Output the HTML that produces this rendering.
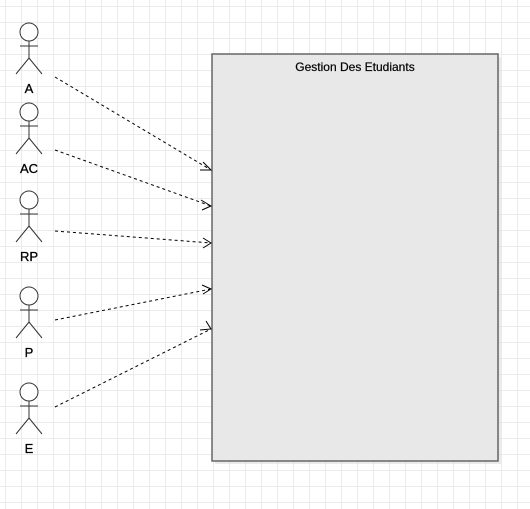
<!DOCTYPE html>
<html><head><style>
html,body{margin:0;padding:0;}
body{width:530px;height:509px;overflow:hidden;background-color:#fff;
background-image:linear-gradient(#ebebeb 1px,transparent 1px),linear-gradient(90deg,#ebebeb 1px,transparent 1px);
background-size:16px 16px;background-position:5px 6px;}
svg{position:absolute;left:0;top:0;}
text{font-family:"Liberation Sans",sans-serif;}
</style></head><body>
<svg width="530" height="509" viewBox="0 0 530 509">
<defs>
<g id="actor" fill="none" stroke="#333" stroke-width="1">
<circle cx="29" cy="0" r="9" fill="#fff"/>
<line x1="29" y1="9" x2="29" y2="26"/>
<line x1="20" y1="14" x2="38" y2="14"/>
<line x1="29" y1="26" x2="16" y2="42"/>
<line x1="29" y1="26" x2="42" y2="42"/>
</g>
</defs>
<rect x="215" y="57" width="286" height="407" fill="#d8d8d8" opacity="0.5"/>
<rect x="212" y="54" width="286" height="407" fill="#e8e8e8" stroke="#666" stroke-width="1.5"/>
<text x="355" y="71" font-size="12" text-anchor="middle" fill="#000" stroke="#000" stroke-width="0.2">Gestion Des Etudiants</text>
<use href="#actor" y="32"/>
<use href="#actor" y="112"/>
<use href="#actor" y="200"/>
<use href="#actor" y="296"/>
<use href="#actor" y="392"/>
<g font-size="13" text-anchor="middle" fill="#000" stroke="#000" stroke-width="0.3">
<text x="29" y="93">A</text>
<text x="29" y="173">AC</text>
<text x="29" y="261">RP</text>
<text x="29" y="357">P</text>
<text x="29" y="453">E</text>
</g>
<g stroke="#000" stroke-width="1" fill="none" stroke-dasharray="3,3">
<line x1="55" y1="77" x2="211" y2="170"/>
<line x1="55" y1="150" x2="211" y2="206"/>
<line x1="55" y1="231" x2="211" y2="243"/>
<line x1="55" y1="320" x2="211" y2="289"/>
<line x1="55" y1="407" x2="211" y2="329"/>
</g>
<g stroke="#000" stroke-width="1" fill="none">
<polyline points="203,162 211,170 200,170"/>
<polyline points="201,200 211,206 202,210"/>
<polyline points="203,238 211,243 203,248"/>
<polyline points="202,285 211,289 203,294"/>
<polyline points="200,330 211,329 206,321"/>
</g>
</svg>
</body></html>
